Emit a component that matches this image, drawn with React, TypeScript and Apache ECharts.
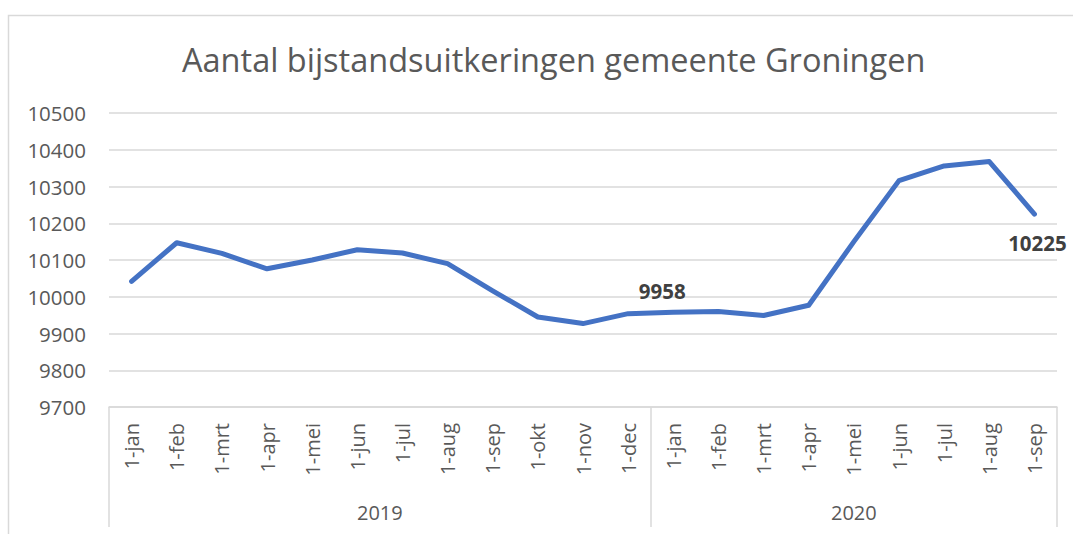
import React, { useEffect, useRef } from "react";
import * as echarts from "echarts";

const months = [
  "1-jan", "1-feb", "1-mrt", "1-apr", "1-mei", "1-jun", "1-jul", "1-aug", "1-sep", "1-okt", "1-nov", "1-dec",
  "1-jan", "1-feb", "1-mrt", "1-apr", "1-mei", "1-jun", "1-jul", "1-aug", "1-sep",
];
const values = [
  10042, 10147, 10118, 10076, 10100, 10128, 10119, 10090, 10016, 9945, 9927, 9954,
  9958, 9960, 9949, 9977, 10150, 10316, 10356, 10368, 10225,
];
const years = ["2019", "2020"];
const yearSizes = [12, 9];
const labeledIndices = [12, 20];
const yTicks = [9700, 9800, 9900, 10000, 10100, 10200, 10300, 10400, 10500];

const FONT = "'Open Sans', 'Noto Sans', sans-serif";

export default function App() {
  const ref = useRef<HTMLDivElement>(null);
  useEffect(() => {
    if (!ref.current) return;
    const chart = echarts.init(ref.current, undefined, { renderer: "svg" });

    const boundaries: number[] = [0];
    yearSizes.forEach((s) => boundaries.push(boundaries[boundaries.length - 1] + s));
    const centers = yearSizes.map((s, i) => boundaries[i] + s / 2);

    const seriesData = values.map((v, i) => {
      if (i === labeledIndices[0]) {
        return {
          value: v,
          label: { show: true, position: "top", offset: [-11, -6] },
        };
      }
      if (i === labeledIndices[1]) {
        return {
          value: v,
          label: { show: true, position: "bottom", offset: [3, 13] },
        };
      }
      return v;
    });

    chart.setOption({
      animation: false,
      backgroundColor: "#ffffff",
      textStyle: { fontFamily: FONT },
      title: {
        text: "Aantal bijstandsuitkeringen gemeente Groningen",
        left: 177,
        top: 38,
        textStyle: { fontFamily: FONT, fontSize: 32.5, fontWeight: "normal", color: "#595959" },
      },
      graphic: [
        {
          type: "rect",
          shape: { x: 8.5, y: 15.5, width: 1200, height: 700 },
          style: { fill: "none", stroke: "#d9d9d9", lineWidth: 1.5 },
          silent: true,
          z: -1,
        },
      ],
      grid: { left: 109, right: 16, top: 113, bottom: 127, containLabel: false },
      xAxis: [
        {
          type: "category",
          data: months,
          boundaryGap: true,
          position: "bottom",
          axisLine: { show: true, lineStyle: { color: "#d9d9d9", width: 1.5 } },
          axisTick: { show: false },
          axisLabel: {
            rotate: 90,
            interval: 0,
            margin: 16,
            fontSize: 20,
            fontFamily: FONT,
            color: "#595959",
          },
          splitLine: { show: false },
        },
        {
          type: "value",
          min: 0,
          max: boundaries[boundaries.length - 1],
          position: "bottom",
          axisLine: { show: false },
          splitLine: { show: false },
          axisTick: {
            show: true,
            customValues: boundaries,
            length: 120,
            lineStyle: { color: "#d9d9d9", width: 1.5 },
          },
          axisLabel: {
            customValues: centers,
            formatter: (v: number) => {
              const idx = centers.findIndex((c) => Math.abs(c - v) < 1e-6);
              return idx >= 0 ? years[idx] : "";
            },
            margin: 95,
            fontSize: 20,
            fontFamily: FONT,
            color: "#595959",
          },
        },
      ],
      yAxis: {
        type: "value",
        min: yTicks[0],
        max: yTicks[yTicks.length - 1],
        interval: yTicks[1] - yTicks[0],
        axisLine: { show: false },
        axisTick: { show: false },
        axisLabel: {
          margin: 23,
          fontSize: 20.5,
          fontFamily: FONT,
          color: "#595959",
          formatter: (v: number) => String(v),
        },
        splitLine: { show: true, lineStyle: { color: "#d9d9d9", width: 1.5 } },
      },
      series: [
        {
          type: "line",
          xAxisIndex: 0,
          data: seriesData,
          symbol: "circle",
          symbolSize: 0,
          showSymbol: true,
          lineStyle: { color: "#4472C4", width: 5, cap: "round", join: "round" },
          itemStyle: { color: "#4472C4" },
          label: {
            show: false,
            fontFamily: FONT,
            fontSize: 20.5,
            fontWeight: "bold",
            color: "#404040",
          },
        },
      ],
    });
    return () => chart.dispose();
  }, []);

  return (
    <div
      ref={ref}
      style={{ position: "fixed", left: 0, top: 0, width: 1073, height: 534, background: "#fff" }}
    />
  );
}
